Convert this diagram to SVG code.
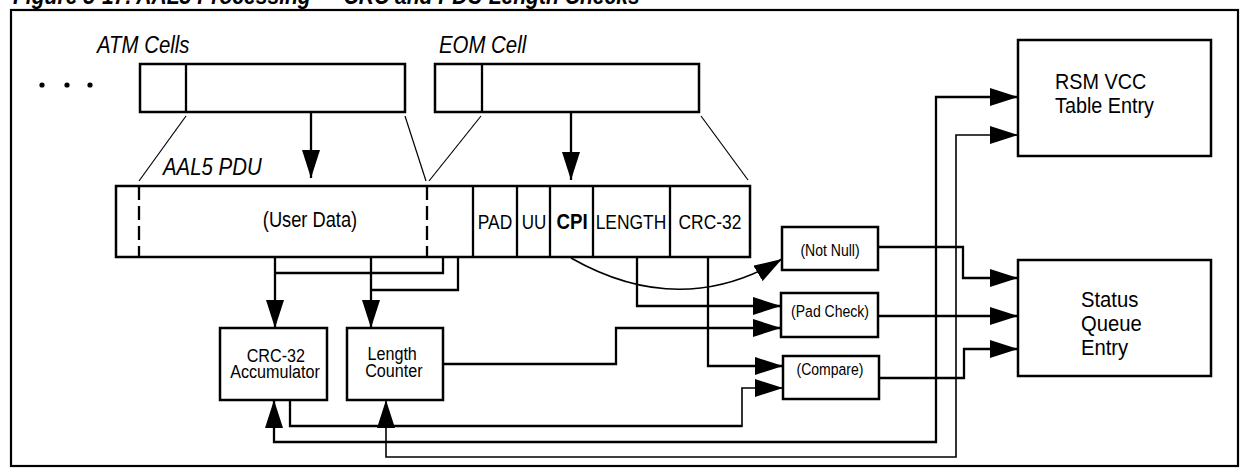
<svg xmlns="http://www.w3.org/2000/svg" width="1248" height="476" viewBox="0 0 1248 476">
<style>
text{font-family:"Liberation Sans",Arial,sans-serif;fill:#000}
.it{font-style:italic}
.box{fill:#fff;stroke:#000;stroke-width:2.5}
.thin{fill:none;stroke:#000;stroke-width:1.2}
.ln{fill:none;stroke:#000;stroke-width:2.3}
.ln2{fill:none;stroke:#000;stroke-width:1.6}
.dash{fill:none;stroke:#000;stroke-width:2.3;stroke-dasharray:14 6}
.mid{text-anchor:middle}
</style>
<defs>
<marker id="ah" markerUnits="userSpaceOnUse" markerWidth="28" markerHeight="18" refX="28" refY="9" orient="auto-start-reverse" viewBox="0 0 28 18">
<path d="M0,0 L28,9 L0,18 z" fill="#000"/>
</marker>
</defs>
<rect width="1248" height="476" fill="#fff"/>
<text transform="translate(13,4) scale(0.85,1)" class="it" font-weight="bold" font-size="24.8">Figure 5-17. AAL5 Processing — CRC and PDU Length Checks</text>
<rect x="11" y="10" width="1227" height="456" fill="none" stroke="#000" stroke-width="2.2"/>

<g id="atm-cells">
<text transform="translate(97,53) scale(0.85,1)" class="it" font-size="24">ATM Cells</text>
<circle cx="42" cy="85" r="2.6"/><circle cx="67" cy="85" r="2.6"/><circle cx="90" cy="85" r="2.6"/>
<rect x="140" y="64" width="265" height="48" class="box"/>
<line x1="186" y1="64" x2="186" y2="112" class="ln"/>
</g>
<g id="eom-cell">
<text transform="translate(439,53) scale(0.85,1)" class="it" font-size="24">EOM Cell</text>
<rect x="435" y="64" width="264" height="48" class="box"/>
<line x1="482" y1="64" x2="482" y2="112" class="ln"/>
</g>
<g id="pdu">
<text transform="translate(163,175) scale(0.85,1)" class="it" font-size="24">AAL5 PDU</text>
<line x1="186" y1="116" x2="139" y2="181" class="thin"/>
<line x1="405" y1="116" x2="426" y2="181" class="thin"/>
<line x1="481" y1="116" x2="429" y2="181" class="thin"/>
<line x1="701" y1="116" x2="748" y2="180" class="thin"/>
<rect x="116" y="186" width="634" height="71" class="box"/>
<line x1="139" y1="186" x2="139" y2="257" class="dash"/>
<line x1="427" y1="186" x2="427" y2="257" class="dash"/>
<line x1="473" y1="186" x2="473" y2="257" class="ln"/>
<line x1="517" y1="186" x2="517" y2="257" class="ln"/>
<line x1="550" y1="186" x2="550" y2="257" class="ln"/>
<line x1="593" y1="186" x2="593" y2="257" class="ln"/>
<line x1="670" y1="186" x2="670" y2="257" class="ln"/>
<text transform="translate(310,227) scale(0.85,1)" class="mid" font-size="21.5">(User Data)</text>
<text transform="translate(495,229) scale(0.85,1)" class="mid" font-size="20.5">PAD</text>
<text transform="translate(534,229) scale(0.85,1)" class="mid" font-size="20">UU</text>
<text transform="translate(572,229) scale(0.85,1)" class="mid" font-size="22" font-weight="bold">CPI</text>
<text transform="translate(631,229) scale(0.85,1)" class="mid" font-size="20.5">LENGTH</text>
<text transform="translate(710,229) scale(0.85,1)" class="mid" font-size="20.5">CRC-32</text>
</g>
<g id="crc-acc">
<rect x="220" y="328" width="107" height="72" class="box"/>
<text transform="translate(275,0) scale(0.85,1)" class="mid" font-size="19"><tspan x="1" y="362">CRC-32</tspan><tspan x="0" y="378">Accumulator</tspan></text>
</g>
<g id="len-counter">
<rect x="347" y="328" width="96" height="72" class="box"/>
<text transform="translate(393,0) scale(0.85,1)" class="mid" font-size="19"><tspan x="-1" y="360">Length</tspan><tspan x="1" y="377">Counter</tspan></text>
</g>
<g id="not-null">
<rect x="782" y="227" width="96" height="43" class="box"/>
<text transform="translate(830,256) scale(0.85,1)" class="mid" font-size="16.5">(Not Null)</text>
</g>
<g id="pad-check">
<rect x="781" y="293" width="97" height="44" class="box"/>
<text transform="translate(830,317) scale(0.85,1)" class="mid" font-size="16.5">(Pad Check)</text>
</g>
<g id="compare">
<rect x="783" y="356" width="96" height="43" class="box"/>
<text transform="translate(830,375) scale(0.85,1)" class="mid" font-size="16.5">(Compare)</text>
</g>
<g id="rsm-vcc">
<rect x="1018" y="40" width="193" height="116" class="box"/>
<text transform="translate(1055,0) scale(0.9,1)" font-size="22"><tspan x="0" y="89">RSM VCC</tspan><tspan x="0" y="113">Table Entry</tspan></text>
</g>
<g id="status-queue">
<rect x="1018" y="260" width="193" height="116" class="box"/>
<text transform="translate(1081,0) scale(0.9,1)" font-size="22.5"><tspan x="0" y="307">Status</tspan><tspan x="0" y="331">Queue</tspan><tspan x="0" y="355">Entry</tspan></text>
</g>
<g id="connectors">
<path d="M311,112 V178" class="ln" marker-end="url(#ah)"/>
<path d="M571,112 V180" class="ln" marker-end="url(#ah)"/>
<path d="M275,257 V328" class="ln" marker-end="url(#ah)"/>
<path d="M275,273 H443 V257" class="ln"/>
<path d="M371,257 V328" class="ln" marker-end="url(#ah)"/>
<path d="M371,290 H458 V257" class="ln"/>
<path d="M571,258 Q680,320 782,259" class="ln2" marker-end="url(#ah)"/>
<path d="M637,257 V306 H781" class="ln" marker-end="url(#ah)"/>
<path d="M443,364 H616 V328 H781" class="ln" marker-end="url(#ah)"/>
<path d="M708,257 V366 H783" class="ln" marker-end="url(#ah)"/>
<path d="M290,400 V426 H742" class="ln"/>
<path d="M742,427 V388 H783" class="ln2" marker-end="url(#ah)"/>
<path d="M274,400 V442 H936 V97 H1018" class="ln" marker-start="url(#ah)" marker-end="url(#ah)"/>
<path d="M386,400 V457 H956 V135 H1018" class="ln2" marker-start="url(#ah)" marker-end="url(#ah)"/>
<path d="M878,247 H963 V278 H1018" class="ln" marker-end="url(#ah)"/>
<path d="M878,316 H1018" class="ln" marker-end="url(#ah)"/>
<path d="M879,378 H964 V349 H1018" class="ln" marker-end="url(#ah)"/>
</g>
</svg>
